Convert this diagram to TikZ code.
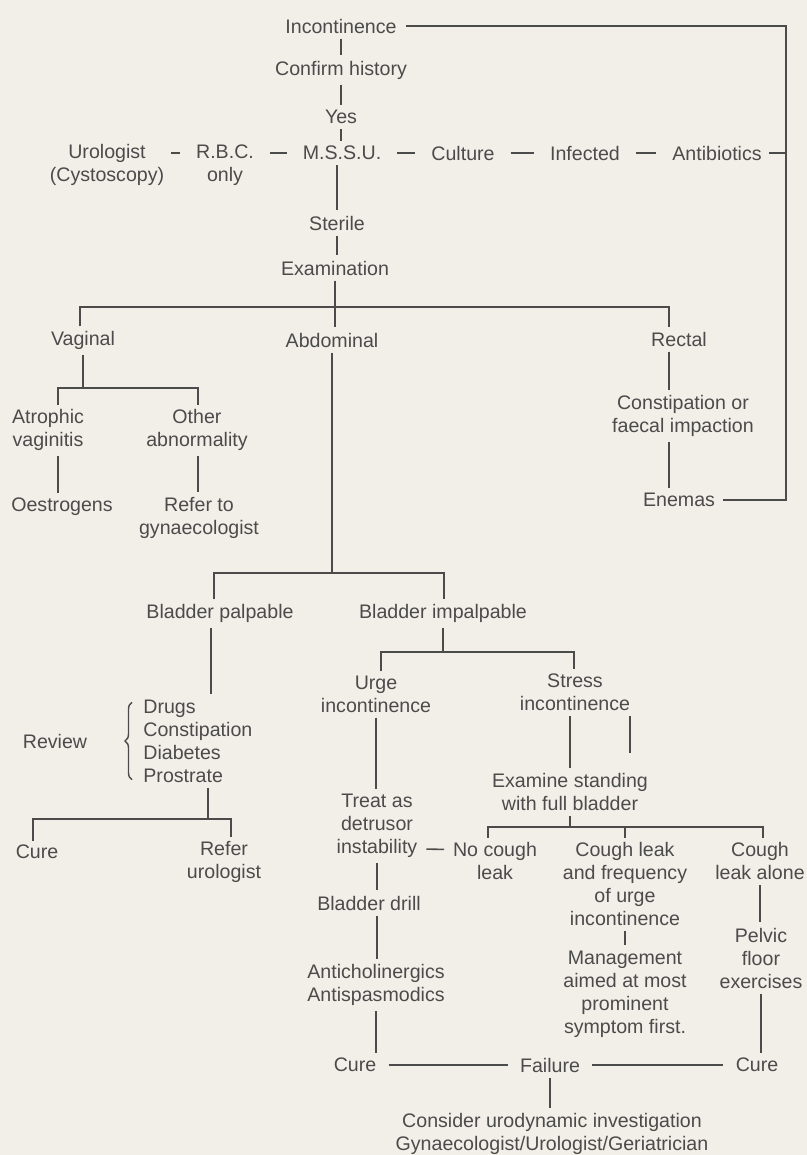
\documentclass[tikz,border=0pt]{standalone}
\usepackage{fontspec}
\setmainfont{Liberation Sans}
\usetikzlibrary{decorations.pathreplacing}
\definecolor{paper}{RGB}{242,239,232}
\definecolor{ink}{RGB}{75,75,75}

\begin{document}
\begin{tikzpicture}[x=0.5pt, y=-0.5pt,
    txt/.style={text=ink, align=center, inner sep=2pt, font=\fontsize{9.8}{11.5}\selectfont},
    bar/.style={draw=ink, line width=0.8pt},
    link/.style={bar, shorten <=0.5pt, shorten >=0.5pt},
    stem/.style={link, shorten >=0pt},
    rowlink/.style={bar, shorten <=5.8pt, shorten >=5.8pt}]
\fill[paper] (0,0) rectangle (807,1155);
\useasboundingbox (0,0) rectangle (807,1155);

% history and urine test
\node[txt] (inc) at (341,26) {Incontinence};
\node[txt] (conf) at (341,70) {Confirm history};
\node[txt] (yes) at (341,117) {Yes};
\node[txt] (mssu) at (342,153) {M.S.S.U.};
\node[txt] (uro) at (107,165) {Urologist\\(Cystoscopy)};
\node[txt] (rbc) at (225,165) {R.B.C.\\only};
\node[txt] (cult) at (463,153) {Culture};
\node[txt] (inf) at (585,153) {Infected};
\node[txt] (anti) at (717,153) {Antibiotics};
\node[txt] (ster) at (337,223) {Sterile};
\node[txt] (exam) at (335,268) {Examination};

% examination
\node[txt] (vag) at (83,340) {Vaginal};
\node[txt] (abd) at (332,340) {Abdominal};
\node[txt] (rec) at (679,339) {Rectal};
\node[txt] (atro) at (48,430) {Atrophic\\vaginitis};
\node[txt] (oth) at (197,430) {Other\\abnormality};
\node[txt] (oest) at (62,507) {Oestrogens};
\node[txt] (refg) at (199,518) {Refer to\\gynaecologist};
\node[txt] (const) at (683,416) {Constipation or\\faecal impaction};
\node[txt] (enem) at (679,500) {Enemas};

% bladder
\node[txt] (bpal) at (220,613) {Bladder palpable};
\node[txt] (bimp) at (443,613) {Bladder impalpable};
\node[txt] (review) at (55,741) {Review};
\node[txt, align=left, anchor=west] (drugs) at (139,741) {Drugs\\Constipation\\Diabetes\\Prostrate};
\node[txt] (cure1) at (37,852) {Cure};
\node[txt] (refu) at (224,862) {Refer\\urologist};
\node[txt] (urge) at (376,694) {Urge\\incontinence};
\node[txt] (stress) at (575,692) {Stress\\incontinence};
\node[txt] (treat) at (377,826) {Treat as\\detrusor\\instability};
\node[txt] (exm) at (570,792) {Examine standing\\with full bladder};
\node[txt] (nocough) at (495,861) {No cough\\leak};
\node[txt] (cleak) at (625,884) {Cough leak\\and frequency\\of urge\\incontinence};
\node[txt] (clone) at (760,861) {Cough\\leak alone};
\node[txt] (bdrill) at (369,903) {Bladder drill};
\node[txt] (antic) at (376,985) {Anticholinergics\\Antispasmodics};
\node[txt] (mgmt) at (625,994) {Management\\aimed at most\\prominent\\symptom first.};
\node[txt] (pelv) at (761,958) {Pelvic\\floor\\exercises};
\node[txt] (cure2) at (355,1065) {Cure};
\node[txt] (fail) at (550,1065) {Failure};
\node[txt] (cure3) at (757,1065) {Cure};
\node[txt] (cons) at (552,1134) {Consider urodynamic investigation\\Gynaecologist/Urologist/Geriatrician};

% junctions
\coordinate (loopx) at (786,0);
\coordinate (j1l) at (80,307);
\coordinate (j1r) at (669,307);
\coordinate (j2l) at (58,388);
\coordinate (j2r) at (198,388);
\coordinate (rx) at (669,0);
\coordinate (j3l) at (214,573);
\coordinate (j3r) at (444,573);
\coordinate (px) at (211,0);
\coordinate (j4) at (208,819);
\coordinate (j4l) at (33,819);
\coordinate (j4r) at (231,819);
\coordinate (j5l) at (381,652);
\coordinate (j5r) at (574,652);
\coordinate (stub) at (630,753);
\coordinate (j6) at (571,827);
\coordinate (j6l) at (488,827);
\coordinate (j6r) at (763,827);

\draw[link] (inc) -- (conf);
\draw[link] (conf) -- (yes);
\draw[link] (yes) -- (yes |- mssu.north);
\draw[link] (mssu.south -| ster) -- (ster);
\draw[link] (ster) -- (ster |- exam.north);
\draw[rowlink, shorten <=1.3pt] ([yshift=6pt]uro.east) -- ([yshift=6pt]rbc.west);
\draw[rowlink] ([yshift=6pt]rbc.east) -- (mssu.west);
\draw[rowlink] (mssu) -- (cult);
\draw[rowlink] (cult) -- (inf);
\draw[rowlink] (inf) -- (anti);
\draw[bar, shorten <=1.5pt] (anti) -- (anti -| loopx);
\draw[bar, shorten <=2.5pt, shorten >=2pt] (inc) -- (inc -| loopx) -- (enem -| loopx) -- (enem);

\draw[link] (exam) -- (exam |- abd.north);
\draw[bar] (vag.north -| j1l) -- (j1l) -- (j1r) -- (rec.north -| j1r);
\draw[stem] (vag) -- (vag |- j2l);
\draw[bar] (atro.north -| j2l) -- (j2l) -- (j2r) -- (oth.north -| j2r);
\draw[link] (atro.south -| j2l) -- (oest.north -| j2l);
\draw[link] (oth.south -| j2r) -- (refg.north -| j2r);
\draw[link] (rec.south -| rx) -- (const.north -| rx);
\draw[link] (const.south -| rx) -- (enem.north -| rx);

\draw[stem] (abd) -- (abd |- j3l);
\draw[bar] (bpal.north -| j3l) -- (j3l) -- (j3r) -- (bimp.north -| j3r);
\draw[link] (bpal.south -| px) -- (drugs.north -| px);
\draw[bar, line width=0.7pt, decorate, decoration={brace, amplitude=3.5pt}]
    ([shift={(-3.5pt,3.5pt)}]drugs.south west) -- ([shift={(-3.5pt,-3.5pt)}]drugs.north west);
\draw[stem] (drugs.south -| j4) -- (j4);
\draw[bar] (cure1.north -| j4l) -- (j4l) -- (j4r) -- (refu.north -| j4r);

\draw[stem] (bimp) -- (bimp |- j5l);
\draw[bar] (urge.north -| j5l) -- (j5l) -- (j5r) -- (stress.north -| j5r);
\draw[link] (urge) -- (urge |- treat.north);
\draw[link] (stress.south -| exm) -- (exm);
\draw[link, shorten >=0pt] (stress.south -| stub) -- (stub);
\draw[stem] (exm) -- (exm |- j6);
\draw[bar] (nocough.north -| j6l) -- (j6l) -- (j6r) -- (clone.north -| j6r);
\draw[bar] (j6 -| cleak) -- (cleak.north);
\draw[bar, shorten <=2.3pt, shorten >=2.3pt] ([yshift=-11.5pt]treat.east) -- ([yshift=5.75pt]nocough.west);

\draw[link] (treat) -- (treat |- bdrill.north);
\draw[link] (bdrill.south -| treat) -- (treat |- antic.north);
\draw[link] (antic) -- (antic |- cure2.north);
\draw[link] (cleak) -- (mgmt);
\draw[link] (clone) -- (clone |- pelv.north);
\draw[link] (pelv) -- (pelv |- cure3.north);
\draw[link, shorten <=4pt, shorten >=4pt] (cure2) -- (fail);
\draw[link, shorten <=4pt, shorten >=4pt] (fail) -- (cure3);
\draw[link] (fail) -- (fail |- cons.north);
\end{tikzpicture}
\end{document}
